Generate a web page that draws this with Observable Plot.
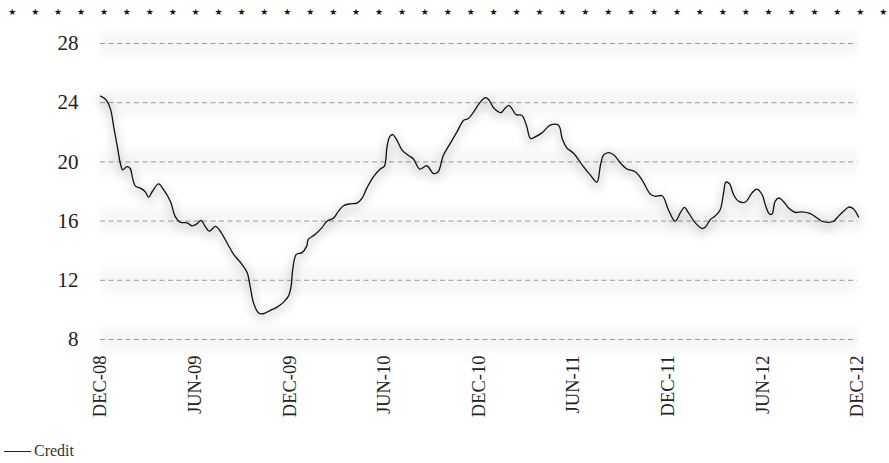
<!DOCTYPE html>
<html><head><meta charset="utf-8">
<script src="https://cdn.jsdelivr.net/npm/d3@7"></script>
<script src="https://cdn.jsdelivr.net/npm/@observablehq/plot@0.6"></script>
<style>
body{margin:0;background:#fff;font-family:"Liberation Serif","DejaVu Serif",serif;}
#wrap{position:relative;width:889px;height:463px;overflow:hidden;background:#fff}
#stars{position:absolute;top:0;left:0;width:889px;height:26px}
#stars span{position:absolute;top:5px;font-family:"DejaVu Sans",sans-serif;font-size:9px;line-height:14px;color:#111;transform:translateX(-50%)}
#chart{position:absolute;top:0;left:0}
#legend{position:absolute;left:4px;top:442px;font-size:16px;color:#333;display:flex;align-items:center}
#legend i{display:inline-block;width:27px;height:1px;background:#222;margin-right:3px}
g[aria-description="gridshadow"]{filter:blur(4px)}
g[aria-description="lineshadow"]{filter:blur(4px)}
</style>
</head><body>
<div id="wrap">
  <div id="stars"></div>
  <div id="chart"></div>
  <div id="legend"><i></i><span id="legendText"></span></div>
</div>
<script>
const seriesName = "Credit";
const starCount = 39;
const yTicks = [8, 12, 16, 20, 24, 28];
const tickDates = ["2008-12-01","2009-06-01","2009-12-01","2010-06-01","2010-12-01","2011-06-01","2011-12-01","2012-06-01","2012-12-01"];
const tickLabels = ["DEC-08","JUN-09","DEC-09","JUN-10","DEC-10","JUN-11","DEC-11","JUN-12","DEC-12"];
const dates = [
"2008-12-01","2008-12-11","2008-12-20","2008-12-27","2009-01-02","2009-01-09","2009-01-13","2009-01-21","2009-01-27","2009-02-01",
"2009-02-06","2009-02-16","2009-02-25","2009-03-04","2009-03-11","2009-03-23","2009-04-02","2009-04-15","2009-04-24","2009-05-04",
"2009-05-17","2009-05-27","2009-06-05","2009-06-13","2009-06-21","2009-06-29","2009-07-11","2009-07-20","2009-08-02","2009-08-15",
"2009-08-31","2009-09-10","2009-09-16","2009-09-22","2009-10-02","2009-10-11","2009-10-24","2009-11-06","2009-11-19","2009-11-29",
"2009-12-04","2009-12-07","2009-12-14","2009-12-25","2010-01-03","2010-01-06","2010-01-19","2010-02-01","2010-02-11","2010-02-24",
"2010-03-05","2010-03-15","2010-03-28","2010-04-10","2010-04-20","2010-04-29","2010-05-12","2010-05-25","2010-06-02","2010-06-07",
"2010-06-12","2010-06-18","2010-06-26","2010-07-06","2010-07-19","2010-07-28","2010-08-09","2010-08-23","2010-09-04","2010-09-13",
"2010-09-24","2010-10-07","2010-10-20","2010-11-02","2010-11-11","2010-11-21","2010-12-04","2010-12-14","2010-12-20","2010-12-30",
"2011-01-13","2011-01-19","2011-01-28","2011-02-03","2011-02-11","2011-02-22","2011-03-03","2011-03-11","2011-03-20","2011-04-02",
"2011-04-18","2011-05-04","2011-05-11","2011-05-20","2011-06-02","2011-06-21","2011-07-04","2011-07-17","2011-07-24","2011-07-30",
"2011-08-09","2011-08-19","2011-09-01","2011-09-13","2011-09-29","2011-10-12","2011-10-28","2011-11-07","2011-11-20","2011-12-02",
"2011-12-15","2011-12-25","2012-01-02","2012-01-10","2012-01-23","2012-02-05","2012-02-11","2012-02-21","2012-03-02","2012-03-11",
"2012-03-18","2012-03-22","2012-03-29","2012-04-06","2012-04-16","2012-04-29","2012-05-11","2012-05-21","2012-05-31","2012-06-06",
"2012-06-14","2012-06-19","2012-06-25","2012-07-02","2012-07-11","2012-07-21","2012-08-03","2012-08-16","2012-09-01","2012-09-14",
"2012-09-23","2012-10-06","2012-10-16","2012-10-25","2012-11-04","2012-11-14","2012-11-23","2012-12-03"
];
const credit = [
24.44,24.22,23.6,22.26,21.13,19.79,19.46,19.68,19.57,18.9,
18.38,18.23,18.0,17.62,18.0,18.52,18.11,17.33,16.32,15.92,
15.88,15.68,15.81,16.05,15.65,15.32,15.65,15.32,14.54,13.75,
13.08,12.52,11.55,10.51,9.79,9.74,9.95,10.17,10.51,10.95,
11.62,12.74,13.75,13.87,14.31,14.76,15.09,15.54,15.99,16.21,
16.66,17.04,17.17,17.22,17.56,18.23,19.01,19.52,19.72,21.02,
21.69,21.85,21.47,20.8,20.42,20.2,19.52,19.74,19.23,19.3,
20.46,21.25,22.03,22.81,22.93,23.37,24.04,24.34,24.22,23.64,
23.33,23.55,23.82,23.6,23.19,23.15,22.48,21.58,21.69,21.96,
22.48,22.48,21.58,20.95,20.58,19.68,19.12,18.63,19.79,20.46,
20.62,20.46,19.9,19.52,19.34,18.79,17.83,17.67,17.71,16.77,
15.99,16.55,16.93,16.55,15.88,15.5,15.58,16.1,16.37,16.77,
18.0,18.63,18.52,17.78,17.33,17.29,17.89,18.16,17.78,17.11,
16.48,16.48,17.33,17.56,17.33,16.89,16.59,16.62,16.5,16.21,
15.99,15.92,15.99,16.32,16.66,16.95,16.84,16.28
];

const data = dates.map((d, i) => ({date: new Date(d), value: credit[i]}));
const ticks = tickDates.map((d, i) => ({date: new Date(d), label: tickLabels[i]}));
const xStart = new Date(tickDates[0]);
const xEnd = new Date(tickDates[tickDates.length - 1]);

// stars row
const stars = document.getElementById("stars");
for (let i = 0; i < starCount; i++) {
  const s = document.createElement("span");
  s.textContent = "★";
  s.style.left = (12.3 + i * 22.92) + "px";
  stars.appendChild(s);
}
document.getElementById("legendText").textContent = seriesName;

const plot = Plot.plot({
  width: 889,
  height: 430,
  marginLeft: 100,
  marginRight: 32,
  marginTop: 43,
  marginBottom: 91,
  style: {fontFamily: "'Liberation Serif', 'DejaVu Serif', serif", background: "transparent", color: "#222"},
  x: {type: "utc", domain: [xStart, xEnd], axis: null},
  y: {domain: [8, 28], axis: null},
  marks: [
    Plot.ruleY(yTicks, {stroke: "#000", strokeOpacity: 0.03, strokeWidth: 24, ariaDescription: "gridshadow"}),
    Plot.ruleY(yTicks, {stroke: "#9a9a9a", strokeDasharray: "5,3.5", strokeWidth: 1}),
    Plot.line(data, {x: "date", y: "value", stroke: "#000", strokeOpacity: 0.1, strokeWidth: 8, dy: 3, curve: "catmull-rom", ariaDescription: "lineshadow"}),
    Plot.line(data, {x: "date", y: "value", stroke: "#111", strokeWidth: 1.3, curve: "catmull-rom"}),
    Plot.text(yTicks, {x: xStart, y: d => d, text: d => String(d), textAnchor: "end", dx: -22, fontSize: 21, fill: "#222"}),
    Plot.text(ticks, {x: "date", y: 8, text: "label", rotate: -90, textAnchor: "end", dy: 16, fontSize: 18.5, fill: "#222"})
  ]
});
document.getElementById("chart").appendChild(plot);
</script>
</body></html>
